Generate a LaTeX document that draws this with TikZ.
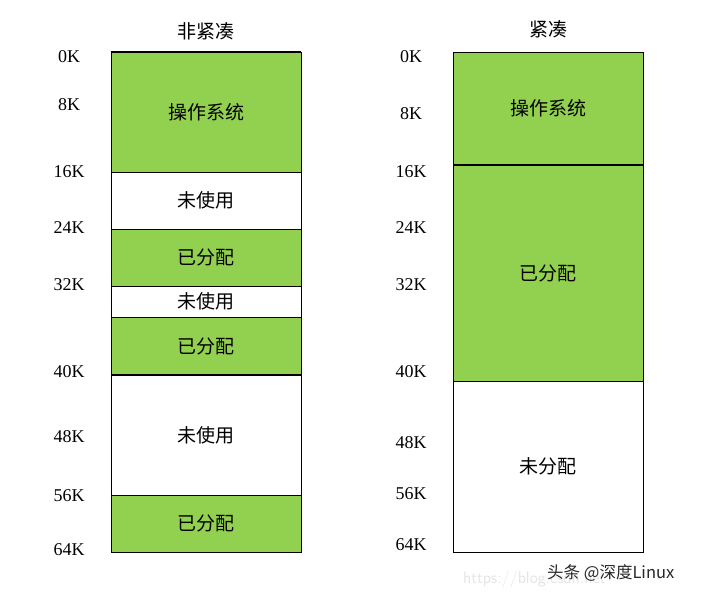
\documentclass[tikz,border=0pt]{standalone}
\usepackage{fontspec}
\setmainfont{Liberation Serif}
\newfontfamily\cjk{Noto Sans CJK SC}
\definecolor{usedgreen}{RGB}{146,208,80}
\tikzset{
  blk/.style={draw=black, line width=1pt, minimum width=190pt, inner sep=0pt, outer sep=0pt,
    font=\cjk\fontsize{19}{19}\selectfont},
  used/.style={blk, fill=usedgreen},
  free/.style={blk, fill=white},
  addr/.style={font=\fontsize{18}{18}\selectfont, inner sep=0pt},
  ttl/.style={font=\cjk\fontsize{19}{19}\selectfont, inner sep=0pt}
}
\begin{document}
\begin{tikzpicture}[x=1pt, y=-1pt]
  \useasboundingbox (0, 0) rectangle (706, 598);
  % non-compacted memory
  \node[ttl] (ttlA) at (206, 31) {非紧凑};
  \node[used, minimum height=120pt] (osA) at (206, 112) {操作系统};
  \node[free, minimum height=57pt] (freeA1) at (206, 200.5) {未使用};
  \node[used, minimum height=57pt] (usedA1) at (206, 257.5) {已分配};
  \node[free, minimum height=31pt] (freeA2) at (206, 301.5) {未使用};
  \node[used, minimum height=58pt] (usedA2) at (206, 346) {已分配};
  \node[free, minimum height=120pt] (freeA3) at (206, 435) {未使用};
  \node[used, minimum height=57pt] (usedA3) at (206, 523.5) {已分配};
  \draw[line width=1.8pt] (osA.north west) -- (osA.north east);
  \draw[line width=1.8pt] (freeA3.north west) -- (freeA3.north east);
  % compacted memory
  \node[ttl] (ttlB) at (548, 29) {紧凑};
  \node[used, minimum height=113pt] (osB) at (548, 108.5) {操作系统};
  \node[used, minimum height=216pt] (usedB) at (548, 273) {已分配};
  \node[free, minimum height=171pt] (freeB) at (548, 466.5) {未分配};
  \draw[line width=1.8pt] (usedB.north west) -- (usedB.north east);
  % addresses
  \foreach \lbl/\y [count=\i] in {0K/57, 8K/105, 16K/172, 24K/228, 32K/285, 40K/372, 48K/437, 56K/496, 64K/550}
    \node[addr] (addrA\i) at (69, \y) {\lbl};
  \foreach \lbl/\y [count=\i] in {0K/57, 8K/114, 16K/172, 24K/228, 32K/285, 40K/372, 48K/443, 56K/494, 64K/545}
    \node[addr] (addrB\i) at (411, \y) {\lbl};
  % watermark
  \node[font=\sffamily\fontsize{17}{17}\selectfont, text=black!10, anchor=west, inner sep=0pt] (url) at (463, 579) {https://blog.csdn.net};
  \node[font=\cjk\fontsize{16.5}{16.5}\selectfont, text=black!85, anchor=west, inner sep=0pt] (mark) at (547, 573) {头条 @深度Linux};
\end{tikzpicture}
\end{document}
